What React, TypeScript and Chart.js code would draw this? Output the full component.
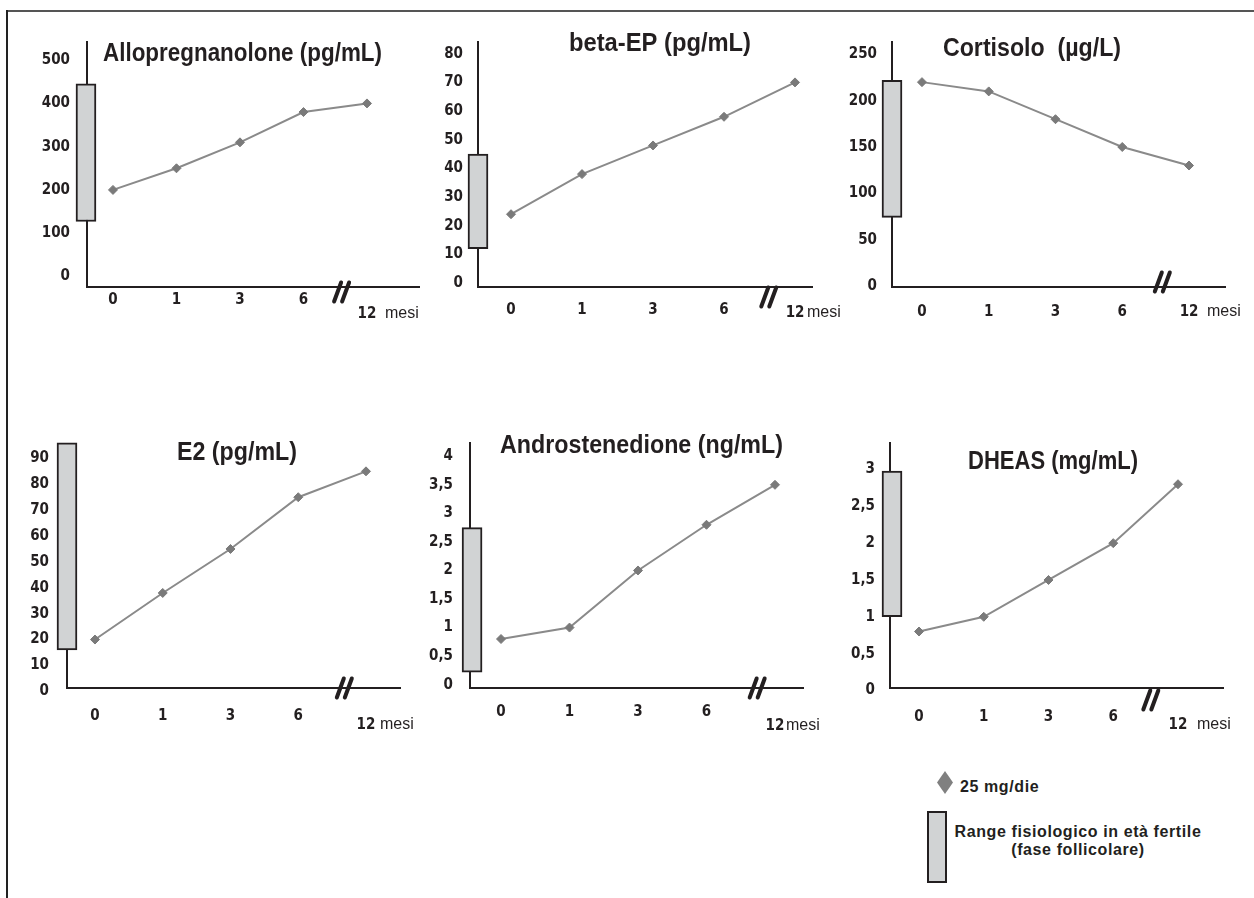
import React, { useEffect, useRef } from 'react';
import { Chart, registerables } from 'chart.js';

Chart.register(...registerables);

// ---------- data ----------
const MONTHS = ['0', '1', '3', '6', '12'];
const X_UNIT = 'mesi';
const TITLES = [
  'Allopregnanolone (pg/mL)',
  'beta-EP (pg/mL)',
  'Cortisolo  (µg/L)',
  'E2 (pg/mL)',
  'Androstenedione (ng/mL)',
  'DHEAS (mg/mL)',
];
const ALLOPREGNANOLONE = [200, 250, 310, 380, 400];
const BETA_EP = [24, 38, 48, 58, 70];
const CORTISOLO = [220, 210, 180, 150, 130];
const E2 = [20, 38, 55, 75, 85];
const ANDROSTENEDIONE = [0.8, 1.0, 2.0, 2.8, 3.5];
const DHEAS = [0.8, 1.0, 1.5, 2.0, 2.8];
const RANGE_LOW = [127, 12, 74, 16, 0.22, 1.0];
const RANGE_HIGH = [445, 45, 222, 96, 2.75, 2.98];
const TICKS_ALLO = [0, 100, 200, 300, 400, 500];
const TICKS_BETA = [0, 10, 20, 30, 40, 50, 60, 70, 80];
const TICKS_CORT = [0, 50, 100, 150, 200, 250];
const TICKS_E2 = [0, 10, 20, 30, 40, 50, 60, 70, 80, 90];
const TICKS_ANDRO = [0, 0.5, 1, 1.5, 2, 2.5, 3, 3.5, 4];
const TICKS_DHEAS = [0, 0.5, 1, 1.5, 2, 2.5, 3];
const LEGEND_SERIES = '25 mg/die';
const LEGEND_RANGE = ['Range fisiologico in età fertile', '(fase follicolare)'];

const SERIES = [ALLOPREGNANOLONE, BETA_EP, CORTISOLO, E2, ANDROSTENEDIONE, DHEAS];
const Y_TICKS = [TICKS_ALLO, TICKS_BETA, TICKS_CORT, TICKS_E2, TICKS_ANDRO, TICKS_DHEAS];

// ---------- layout / styles ----------
const INK = '#231f20';
const LINE_COLOR = '#8a8a8a';
const POINT_COLOR = '#7a7a7a';
const BOX_FILL = '#d1d3d4';
const TICK_FAMILY = "'Liberation Sans Narrow', 'Arial Narrow', 'DejaVu Sans Condensed', sans-serif";
const TEXT_FAMILY = "'Liberation Sans', Arial, Helvetica, sans-serif";

type PanelLayout = {
  L: number; T: number; R: number; B: number;
  yMin: number; yMax: number; xMin: number; xMax: number;
  boxX: number; yPad: number; xPad: number;
  mesiDy: number; mesiDx: number; brk: number; brkDy: number;
  tLeft: number; tBase: number; tW: number;
};

const PANELS: PanelLayout[] = [
  { L: 87, T: 42, R: 419, B: 287, yMin: -24.5, yMax: 542, xMin: -0.409, xMax: 4.819, boxX: -0.425, yPad: 17, xPad: 4, mesiDy: 27, mesiDx: 18, brk: 3.6, brkDy: 5, tLeft: 103, tBase: 61, tW: 279 },
  { L: 478, T: 42, R: 812, B: 287, yMin: -1.4, yMax: 84.1, xMin: -0.465, xMax: 4.239, boxX: -0.465, yPad: 15, xPad: 14, mesiDy: 26, mesiDx: 12, brk: 3.63, brkDy: 10, tLeft: 569, tBase: 51, tW: 182 },
  { L: 892, T: 42, R: 1225, B: 287, yMin: -1.08, yMax: 263.3, xMin: -0.449, xMax: 4.539, boxX: -0.449, yPad: 15, xPad: 16, mesiDy: 25, mesiDx: 18, brk: 3.6, brkDy: -5, tLeft: 943, tBase: 56, tW: 178 },
  { L: 67, T: 446, R: 400, B: 688, yMin: 1.27, yMax: 94.8, xMin: -0.413, xMax: 4.502, boxX: -0.413, yPad: 18, xPad: 19, mesiDy: 37, mesiDx: 14, brk: 3.68, brkDy: 0, tLeft: 177, tBase: 460, tW: 120 },
  { L: 470, T: 443, R: 803, B: 688, yMin: -0.058, yMax: 4.232, xMin: -0.453, xMax: 4.409, boxX: -0.423, yPad: 17, xPad: 15, mesiDy: 38, mesiDx: 11, brk: 3.74, brkDy: 0, tLeft: 500, tBase: 453, tW: 283 },
  { L: 890, T: 443, R: 1223, B: 688, yMin: 0.033, yMax: 3.36, xMin: -0.448, xMax: 4.695, boxX: -0.417, yPad: 15, xPad: 20, mesiDy: 37, mesiDx: 19, brk: 3.58, brkDy: 12, tLeft: 968, tBase: 469, tW: 170 },
];

const AXIS_W = 80;
const AXIS_H = 60;
const PAD_TOP = 45;
const PAD_RIGHT = 60;

function Panel({ index }: { index: number }) {
  const ref = useRef<HTMLCanvasElement | null>(null);
  const p = PANELS[index];
  const cl = p.L - AXIS_W;
  const ct = p.T - PAD_TOP;
  const cw = AXIS_W + (p.R - p.L) + PAD_RIGHT;
  const ch = PAD_TOP + (p.B - p.T) + AXIS_H;

  useEffect(() => {
    if (!ref.current) return;
    const tickFont = { family: TICK_FAMILY, size: 15, weight: 'bold' as const };
    const overlay = {
      id: 'overlay' + index,
      afterDraw(chart: any) {
        const ctx = chart.ctx as CanvasRenderingContext2D;
        const xs = chart.scales.x;
        const ca = chart.chartArea;
        // title
        ctx.save();
        ctx.font = `bold 25px ${TEXT_FAMILY}`;
        ctx.fillStyle = INK;
        ctx.textAlign = 'left';
        ctx.textBaseline = 'alphabetic';
        const tw = ctx.measureText(TITLES[index]).width;
        ctx.translate(p.tLeft - cl, p.tBase - ct);
        ctx.scale(p.tW / tw, 1);
        ctx.fillText(TITLES[index], 0, 0);
        ctx.restore();
        // "12 mesi"
        ctx.save();
        const x12 = xs.getPixelForValue(4);
        const yLab = ca.bottom + p.mesiDy;
        ctx.fillStyle = INK;
        ctx.textBaseline = 'middle';
        ctx.textAlign = 'center';
        ctx.font = `bold 15px ${TICK_FAMILY}`;
        ctx.fillText(MONTHS[4], x12, yLab);
        ctx.textAlign = 'left';
        ctx.font = `16px ${TEXT_FAMILY}`;
        ctx.fillText(X_UNIT, x12 + p.mesiDx, yLab);
        // axis break "//"
        const bx = xs.getPixelForValue(p.brk);
        const by = ca.bottom + p.brkDy;
        ctx.strokeStyle = INK;
        ctx.lineWidth = 4;
        ctx.lineCap = 'round';
        for (const off of [-4, 4]) {
          ctx.beginPath();
          ctx.moveTo(bx + off - 3.5, by + 9.5);
          ctx.lineTo(bx + off + 3.5, by - 9.5);
          ctx.stroke();
        }
        ctx.restore();
      },
    };

    const chart = new Chart(ref.current, {
      type: 'line',
      data: {
        datasets: [
          {
            type: 'line',
            data: SERIES[index].map((v, k) => ({ x: k, y: v })),
            borderColor: LINE_COLOR,
            borderWidth: 2,
            pointStyle: 'rectRot',
            pointRadius: 4.5,
            pointBackgroundColor: POINT_COLOR,
            pointBorderColor: POINT_COLOR,
            pointBorderWidth: 1,
            tension: 0,
            clip: false,
            order: 0,
          } as any,
          {
            type: 'bar',
            data: [{ x: p.boxX, y: [RANGE_LOW[index], RANGE_HIGH[index]] }],
            backgroundColor: BOX_FILL,
            borderColor: INK,
            borderWidth: 2,
            borderSkipped: false,
            barThickness: 20,
            clip: false,
            order: 1,
          } as any,
        ],
      },
      options: {
        responsive: false,
        animation: false,
        devicePixelRatio: 1,
        events: [],
        layout: { padding: { top: PAD_TOP, right: PAD_RIGHT, left: 0, bottom: 0 } },
        plugins: {
          legend: { display: false },
          tooltip: { enabled: false },
          title: { display: false },
        },
        scales: {
          x: {
            type: 'linear',
            offset: false,
            min: p.xMin,
            max: p.xMax,
            grid: { display: false, drawTicks: false },
            border: { display: true, color: INK, width: 2 },
            afterBuildTicks: (s: any) => {
              s.ticks = MONTHS.map((_, k) => ({ value: k }));
            },
            afterFit: (s: any) => {
              s.height = AXIS_H;
            },
            ticks: {
              autoSkip: false,
              maxRotation: 0,
              padding: p.xPad,
              color: INK,
              font: tickFont,
              callback: (v: any) => (v < 4 ? MONTHS[v] : ''),
            },
          },
          y: {
            type: 'linear',
            min: p.yMin,
            max: p.yMax,
            grid: { display: false, drawTicks: false },
            border: { display: true, color: INK, width: 2 },
            afterBuildTicks: (s: any) => {
              s.ticks = Y_TICKS[index].map((v) => ({ value: v }));
            },
            afterFit: (s: any) => {
              s.width = AXIS_W;
            },
            ticks: {
              autoSkip: false,
              padding: p.yPad,
              color: INK,
              font: tickFont,
              callback: (v: any) => String(v).replace('.', ','),
            },
          },
        },
      } as any,
      plugins: [overlay],
    });
    return () => chart.destroy();
  }, []);

  return (
    <canvas
      ref={ref}
      width={cw}
      height={ch}
      style={{ position: 'absolute', left: cl, top: ct, width: cw, height: ch }}
    />
  );
}

export default function App() {
  return (
    <div
      style={{
        position: 'absolute',
        left: 0,
        top: 0,
        width: 1254,
        height: 898,
        overflow: 'hidden',
        background: '#ffffff',
        fontFamily: TEXT_FAMILY,
        color: INK,
      }}
    >
      {/* frame */}
      <div style={{ position: 'absolute', left: 6, top: 10, width: 1248, height: 2, background: '#555555' }} />
      <div style={{ position: 'absolute', left: 6, top: 10, width: 2, height: 888, background: '#222222' }} />

      {PANELS.map((_, i) => (
        <Panel key={i} index={i} />
      ))}

      {/* legend */}
      <div
        style={{
          position: 'absolute',
          left: 937,
          top: 771,
          width: 16,
          height: 23,
          background: '#808080',
          clipPath: 'polygon(50% 0, 100% 50%, 50% 100%, 0 50%)',
        }}
      />
      <div
        style={{
          position: 'absolute',
          left: 960,
          top: 778,
          lineHeight: '18px',
          fontSize: 16,
          fontWeight: 'bold',
          letterSpacing: '0.6px',
          whiteSpace: 'nowrap',
        }}
      >
        {LEGEND_SERIES}
      </div>
      <div
        style={{
          position: 'absolute',
          left: 927,
          top: 811,
          width: 20,
          height: 72,
          boxSizing: 'border-box',
          border: `2px solid ${INK}`,
          background: BOX_FILL,
        }}
      />
      <div
        style={{
          position: 'absolute',
          left: 928,
          top: 823,
          width: 300,
          textAlign: 'center',
          lineHeight: '18px',
          fontSize: 16,
          fontWeight: 'bold',
          letterSpacing: '0.6px',
          whiteSpace: 'nowrap',
        }}
      >
        <div>{LEGEND_RANGE[0]}</div>
        <div>{LEGEND_RANGE[1]}</div>
      </div>
    </div>
  );
}
